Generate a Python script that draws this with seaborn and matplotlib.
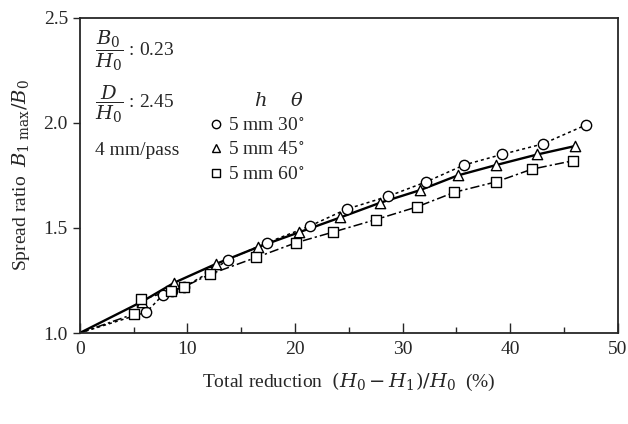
import numpy as np
import pandas as pd
import matplotlib
matplotlib.use("Agg")
import matplotlib.pyplot as plt
import seaborn as sns
from matplotlib.lines import Line2D

sns.set_theme(style="ticks")
plt.rcParams['font.family'] = ['Liberation Serif', 'DejaVu Serif']
plt.rcParams['mathtext.fontset'] = 'dejavuserif'

# data
x_30 = [0, 6.2, 7.7, 8.6, 9.7, 12.1, 13.8, 17.4, 21.4, 24.8, 28.6, 32.2, 35.7, 39.2, 43.0, 47.0]
y_30 = [1.00, 1.10, 1.18, 1.20, 1.22, 1.29, 1.35, 1.43, 1.51, 1.59, 1.65, 1.72, 1.80, 1.85, 1.90, 1.99]
x_45 = [0, 5.8, 8.8, 12.7, 16.6, 20.4, 24.2, 27.9, 31.6, 35.1, 38.7, 42.5, 46.0]
y_45 = [1.00, 1.15, 1.24, 1.33, 1.41, 1.48, 1.55, 1.62, 1.68, 1.75, 1.80, 1.85, 1.89]
x_60 = [0, 5.0, 5.7, 8.5, 9.7, 12.1, 16.4, 20.1, 23.5, 27.5, 31.3, 34.8, 38.7, 42.0, 45.8]
y_60 = [1.00, 1.09, 1.16, 1.20, 1.22, 1.28, 1.36, 1.43, 1.48, 1.54, 1.60, 1.67, 1.72, 1.78, 1.82]
labels = ["5 mm 30$^{\\circ}$", "5 mm 45$^{\\circ}$", "5 mm 60$^{\\circ}$"]
markers = ["o", "^", "s"]
styles = [(0, (2, 2)), "-", (0, (6, 2, 1.5, 2))]
widths = [1.1, 1.7, 1.1]

fig = plt.figure(figsize=(6.28, 4.24), dpi=100)
ax = fig.add_axes([0.127, 0.2146, 0.857, 0.743])

series = [(x_30, y_30), (x_45, y_45), (x_60, y_60)]
for (xs, ys), lab, mk, ls, lw in zip(series, labels, markers, styles, widths):
    df = pd.DataFrame({"x": xs, "y": ys})
    sns.lineplot(data=df, x="x", y="y", ax=ax, color="black", linestyle=ls, lw=lw,
                 sort=False, legend=False)
    sub = df[df["x"] > 0]
    sns.scatterplot(data=sub, x="x", y="y", ax=ax, marker=mk, s=55,
                    facecolor="white", edgecolor="black", linewidth=1.0,
                    legend=False, zorder=3)

ax.set_xlim(0, 50)
ax.set_ylim(1.0, 2.5)
ax.set_xticks([0, 10, 20, 30, 40, 50])
ax.set_xticks([5, 15, 25, 35, 45], minor=True)
ax.set_yticks([1.0, 1.5, 2.0, 2.5])
ax.set_yticklabels(["1.0", "1.5", "2.0", "2.5"])
ax.tick_params(axis="x", direction="in", length=7, width=1, labelsize=14, pad=6)
ax.tick_params(axis="x", which="minor", direction="in", length=4, width=1)
ax.tick_params(axis="y", direction="out", length=5, width=1, labelsize=14)
for s in ax.spines.values():
    s.set_linewidth(1.3)
    s.set_visible(True)

ax.set_xlabel("Total reduction  $(H_0-H_1)/H_0$  (%)", fontsize=14, labelpad=9)
ax.set_ylabel("Spread ratio  $B_{1\\ \\mathrm{max}}/B_0$", fontsize=14, labelpad=8)

ax.text(0.028, 0.895, "$\\dfrac{B_0}{H_0}$ : 0.23", transform=ax.transAxes, fontsize=14,
        va="center")
ax.text(0.028, 0.725, "$\\dfrac{D}{H_0}$ : 2.45", transform=ax.transAxes, fontsize=14,
        va="center")
ax.text(0.028, 0.58, "4 mm/pass", transform=ax.transAxes, fontsize=14, va="center")

handles = [Line2D([], [], marker=m, linestyle="none", markerfacecolor="white",
                  markeredgecolor="black", markersize=6) for m in markers]
leg = ax.legend(handles, labels, title="$h$     $\\theta$", loc="upper left",
                bbox_to_anchor=(0.225, 0.795), frameon=False, fontsize=14,
                title_fontsize=14, handlelength=0.6, handletextpad=0.3,
                labelspacing=0.35, borderpad=0)
leg._legend_box.align = "right"

fig.savefig("out.png", dpi=100)
